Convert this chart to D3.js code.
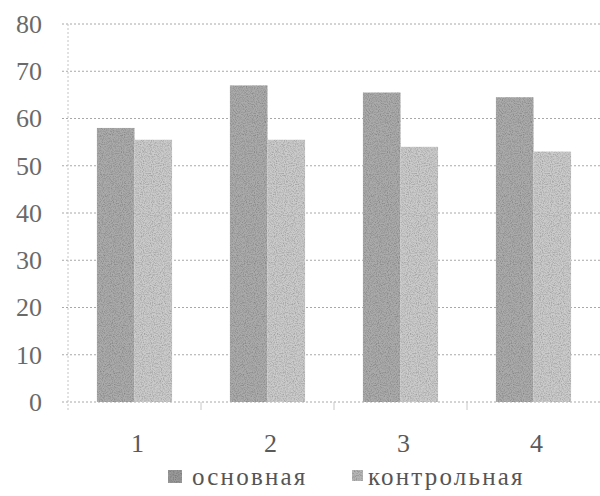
<!DOCTYPE html>
<html>
<head>
<meta charset="utf-8">
<script src="https://cdn.jsdelivr.net/npm/d3@7"></script>
<style>
  html, body { margin: 0; padding: 0; background: #fff; }
  svg { display: block; }
</style>
</head>
<body>
<svg id="chart" width="600" height="496"></svg>
<script>
// ---- data ----
const categories = ["1", "2", "3", "4"];
const seriesNames = ["основная", "контрольная"];
const osnovnaya = [58, 67, 65.5, 64.5];
const kontrolnaya = [55.5, 55.5, 54, 53];
const yTicks = [0, 10, 20, 30, 40, 50, 60, 70, 80];

const colors = { "основная": "#ababab", "контрольная": "#cbcbcb" };

const svg = d3.select("#chart");
const W = 600, H = 496;
const margin = { left: 68, right: 0, top: 24, bottom: 94 };

const x = d3.scaleBand().domain(categories).range([margin.left, W - margin.right]).paddingInner(0).paddingOuter(0);
const xs = d3.scaleBand().domain(seriesNames).range([0, x.bandwidth()]).paddingInner(0).paddingOuter(0.77);
const y = d3.scaleLinear().domain([0, 80]).range([H - margin.bottom, margin.top]);

const rows = categories.map((c, i) => ({ cat: c, values: [
  { name: seriesNames[0], v: osnovnaya[i] },
  { name: seriesNames[1], v: kontrolnaya[i] }
]}));

// grain filter
const defs = svg.append("defs");
const f = defs.append("filter").attr("id", "grain").attr("x", 0).attr("y", 0).attr("width", 1).attr("height", 1);
f.append("feTurbulence").attr("type", "fractalNoise").attr("baseFrequency", 0.9).attr("numOctaves", 2).attr("seed", 3).attr("result", "noise");
f.append("feColorMatrix").attr("in", "noise").attr("type", "matrix")
  .attr("values", "0 0 0 0 0  0 0 0 0 0  0 0 0 0 0  0 0 0 -0.9 0.55").attr("result", "dark");
f.append("feComposite").attr("in", "dark").attr("in2", "SourceGraphic").attr("operator", "in").attr("result", "darkIn");
f.append("feMerge").selectAll("feMergeNode").data(["SourceGraphic", "darkIn"]).join("feMergeNode").attr("in", d => d);

// gridlines
const grid = svg.append("g").attr("class", "grid");
grid.selectAll("line").data(yTicks).join("line")
  .attr("x1", margin.left - 6).attr("x2", W)
  .attr("y1", d => y(d)).attr("y2", d => y(d))
  .attr("stroke", "#a8a8a8").attr("stroke-width", 1)
  .attr("stroke-dasharray", "2,2");

// left axis line
svg.append("line")
  .attr("x1", margin.left).attr("x2", margin.left)
  .attr("y1", y(80)).attr("y2", y(0) + 8)
  .attr("stroke", "#c4c4c4").attr("stroke-dasharray", "2,2");

// category boundary ticks
svg.append("g").selectAll("line").data(categories.slice(1)).join("line")
  .attr("x1", d => x(d)).attr("x2", d => x(d))
  .attr("y1", y(0)).attr("y2", y(0) + 8)
  .attr("stroke", "#c8c8c8");

// bars
const g = svg.append("g").selectAll("g").data(rows).join("g")
  .attr("transform", d => `translate(${x(d.cat)},0)`);
g.selectAll("rect").data(d => d.values).join("rect")
  .attr("x", d => xs(d.name))
  .attr("width", xs.bandwidth())
  .attr("y", d => y(d.v))
  .attr("height", d => y(0) - y(d.v))
  .attr("fill", d => colors[d.name])
  .attr("filter", "url(#grain)");

// y axis labels
const yAxis = d3.axisLeft(y).tickValues(yTicks).tickSize(0).tickPadding(0);
const ya = svg.append("g").attr("transform", `translate(${margin.left - 26},0)`).call(yAxis);
ya.select(".domain").remove();
ya.selectAll("text")
  .attr("font-family", "'Liberation Serif', 'DejaVu Serif', serif")
  .attr("font-size", 26).attr("fill", "#6a6a6a");

// x axis labels
const xAxis = d3.axisBottom(x).tickSize(0).tickPadding(0);
const xa = svg.append("g").attr("transform", `translate(3,${y(0) + 32})`).call(xAxis);
xa.select(".domain").remove();
xa.selectAll("text")
  .attr("font-family", "'Liberation Serif', 'DejaVu Serif', serif")
  .attr("font-size", 26).attr("fill", "#5a5a5a");

// legend
const legendPos = [{ sx: 168, tx: 192 }, { sx: 352, tx: 368 }];
const lg = svg.append("g").selectAll("g").data(seriesNames).join("g");
lg.append("rect")
  .attr("x", (d, i) => legendPos[i].sx).attr("y", 470)
  .attr("width", (d, i) => i === 0 ? 14 : 11).attr("height", (d, i) => i === 0 ? 13 : 11)
  .attr("fill", d => d3.color(colors[d]).darker(0.3))
  .attr("filter", "url(#grain)");
lg.append("text")
  .attr("x", (d, i) => legendPos[i].tx).attr("y", 485)
  .attr("font-family", "'Liberation Serif', 'DejaVu Serif', serif")
  .attr("font-size", 25).attr("letter-spacing", 2.2)
  .attr("fill", "#555")
  .text(d => d);
</script>
</body>
</html>
